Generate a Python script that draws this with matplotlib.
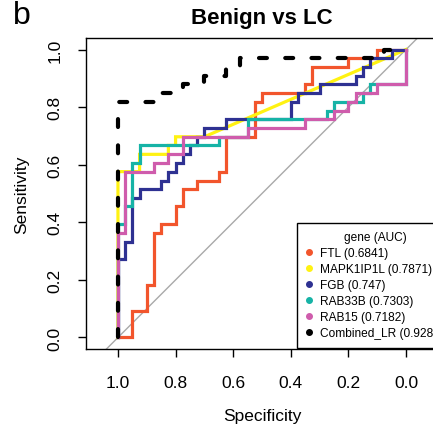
import matplotlib
matplotlib.use('Agg')
import matplotlib.pyplot as plt
from matplotlib.lines import Line2D

plt.rcParams['font.family'] = ['Liberation Sans', 'DejaVu Sans']

genes = ['FTL', 'MAPK1IP1L', 'FGB', 'RAB33B', 'RAB15', 'Combined_LR']
auc = ['0.6841', '0.7871', '0.747', '0.7303', '0.7182', '0.9288']
colors = ['#F2552C', '#FFF212', '#2E3192', '#16B3A6', '#CF5CAC', 'black']

# ROC vertices (specificity, sensitivity)
ftl_spec = [1, 0.95, 0.95, 0.9, 0.9, 0.875, 0.875, 0.85, 0.85, 0.8, 0.8, 0.775, 0.775,
            0.725, 0.725, 0.65, 0.65, 0.625, 0.625, 0.525, 0.525, 0.5, 0.5, 0.35, 0.35,
            0.325, 0.325, 0.2, 0.2, 0.1, 0.1, 0]
ftl_sens = [0, 0, 0.091, 0.091, 0.182, 0.182, 0.364, 0.364, 0.394, 0.394, 0.455, 0.455, 0.515,
            0.515, 0.545, 0.545, 0.576, 0.576, 0.697, 0.697, 0.818, 0.818, 0.848, 0.848, 0.879,
            0.879, 0.939, 0.939, 0.970, 0.970, 1, 1]

mapk_spec = [1, 1, 0.925, 0.925, 0.825, 0.825, 0.8, 0.8, 0.7, 0]
mapk_sens = [0, 0.576, 0.576, 0.636, 0.636, 0.667, 0.667, 0.697, 0.697, 1]

fgb_spec = [1, 1, 0.975, 0.975, 0.95, 0.95, 0.925, 0.925, 0.85, 0.85, 0.825, 0.825, 0.8, 0.8,
            0.775, 0.775, 0.75, 0.75, 0.725, 0.725, 0.7, 0.7, 0.625, 0.625, 0.4, 0.4, 0.375,
            0.375, 0.3, 0.3, 0.175, 0.175, 0.15, 0.15, 0.125, 0.125, 0.05, 0.05, 0]
fgb_sens = [0, 0.273, 0.273, 0.333, 0.333, 0.485, 0.485, 0.515, 0.515, 0.545, 0.545, 0.576,
            0.576, 0.606, 0.606, 0.636, 0.636, 0.667, 0.667, 0.697, 0.697, 0.727, 0.727, 0.758,
            0.758, 0.818, 0.818, 0.848, 0.848, 0.879, 0.879, 0.909, 0.909, 0.939, 0.939, 0.970,
            0.970, 1, 1]

rab33b_spec = [1, 1, 0.975, 0.975, 0.95, 0.95, 0.925, 0.925, 0.65, 0.65, 0.55, 0.55, 0.275,
               0.275, 0.25, 0.25, 0.15, 0.15, 0.125, 0.125, 0, 0]
rab33b_sens = [0, 0.394, 0.394, 0.455, 0.455, 0.606, 0.606, 0.667, 0.667, 0.697, 0.697, 0.758,
               0.758, 0.788, 0.788, 0.818, 0.818, 0.848, 0.848, 0.879, 0.879, 1]

rab15_spec = [1, 1, 0.975, 0.975, 0.875, 0.875, 0.825, 0.825, 0.775, 0.775, 0.55, 0.55, 0.35,
              0.35, 0.25, 0.25, 0.2, 0.2, 0.175, 0.175, 0.1, 0.1, 0, 0]
rab15_sens = [0, 0.364, 0.364, 0.576, 0.576, 0.606, 0.606, 0.636, 0.636, 0.697, 0.697, 0.727,
              0.727, 0.758, 0.758, 0.788, 0.788, 0.818, 0.818, 0.848, 0.848, 0.879, 0.879, 1]

comb_spec = [1, 1, 0.875, 0.875, 0.775, 0.775, 0.7, 0.7, 0.625, 0.625, 0.575, 0.575, 0.075,
             0.075, 0]
comb_sens = [0, 0.818, 0.818, 0.848, 0.848, 0.879, 0.879, 0.909, 0.909, 0.939, 0.939, 0.970,
             0.970, 1, 1]

curves = [(ftl_spec, ftl_sens), (mapk_spec, mapk_sens), (fgb_spec, fgb_sens),
          (rab33b_spec, rab33b_sens), (rab15_spec, rab15_sens), (comb_spec, comb_sens)]

fig = plt.figure(figsize=(4.33, 4.31), dpi=100)
ax = fig.add_axes([0.1986, 0.1879, 0.8129, 0.7216])

ax.axline((1, 0), (0, 1), color='darkgray', lw=1, zorder=1)

for (spec, sens), col, g in zip(curves, colors, genes):
    if g == 'Combined_LR':
        ax.plot(spec, sens, color=col, lw=3, ls=(0, (1.9, 4.4)),
                dash_capstyle='round', zorder=3)
    else:
        ax.plot(spec, sens, color=col, lw=2.3, solid_joinstyle='miter', zorder=2)

ax.set_xlim(1.111, -0.111)
ax.set_ylim(-0.04, 1.04)
ticks = [1.0, 0.8, 0.6, 0.4, 0.2, 0.0]
ax.set_xticks(ticks)
ax.set_yticks(ticks)
ax.set_xticklabels([f'{t:.1f}' for t in ticks])
ax.set_yticklabels([f'{t:.1f}' for t in ticks], rotation=90, va='center')
ax.tick_params(length=6, width=1, labelsize=12.5)
ax.tick_params(axis='x', pad=13)
ax.tick_params(axis='y', pad=11)
for sp in ax.spines.values():
    sp.set_linewidth(1)

ax.set_xlabel('Specificity', fontsize=12.5, labelpad=13)
ax.set_ylabel('Sensitivity', fontsize=12.5, labelpad=13)

fig.text(0.605, 0.958, 'Benign vs LC', ha='center', va='center',
         fontsize=16, fontweight='bold')
fig.text(0.03, 0.962, 'b', ha='left', va='center', fontsize=23)

handles = [Line2D([], [], ls='', marker='o', ms=4, color=c) for c in colors]
labels = [f'{g} ({a})' for g, a in zip(genes, auc)]
leg = ax.legend(handles, labels, title='gene (AUC)', loc='lower left',
                bbox_to_anchor=(0.599, 0.003), borderaxespad=0, fontsize=8.6,
                title_fontsize=8.6, frameon=True, fancybox=False, edgecolor='black',
                framealpha=1, borderpad=0.75, handlelength=0.6, handletextpad=0.6,
                labelspacing=0.33)
leg.get_frame().set_linewidth(1)

fig.savefig('out.png', dpi=100)
